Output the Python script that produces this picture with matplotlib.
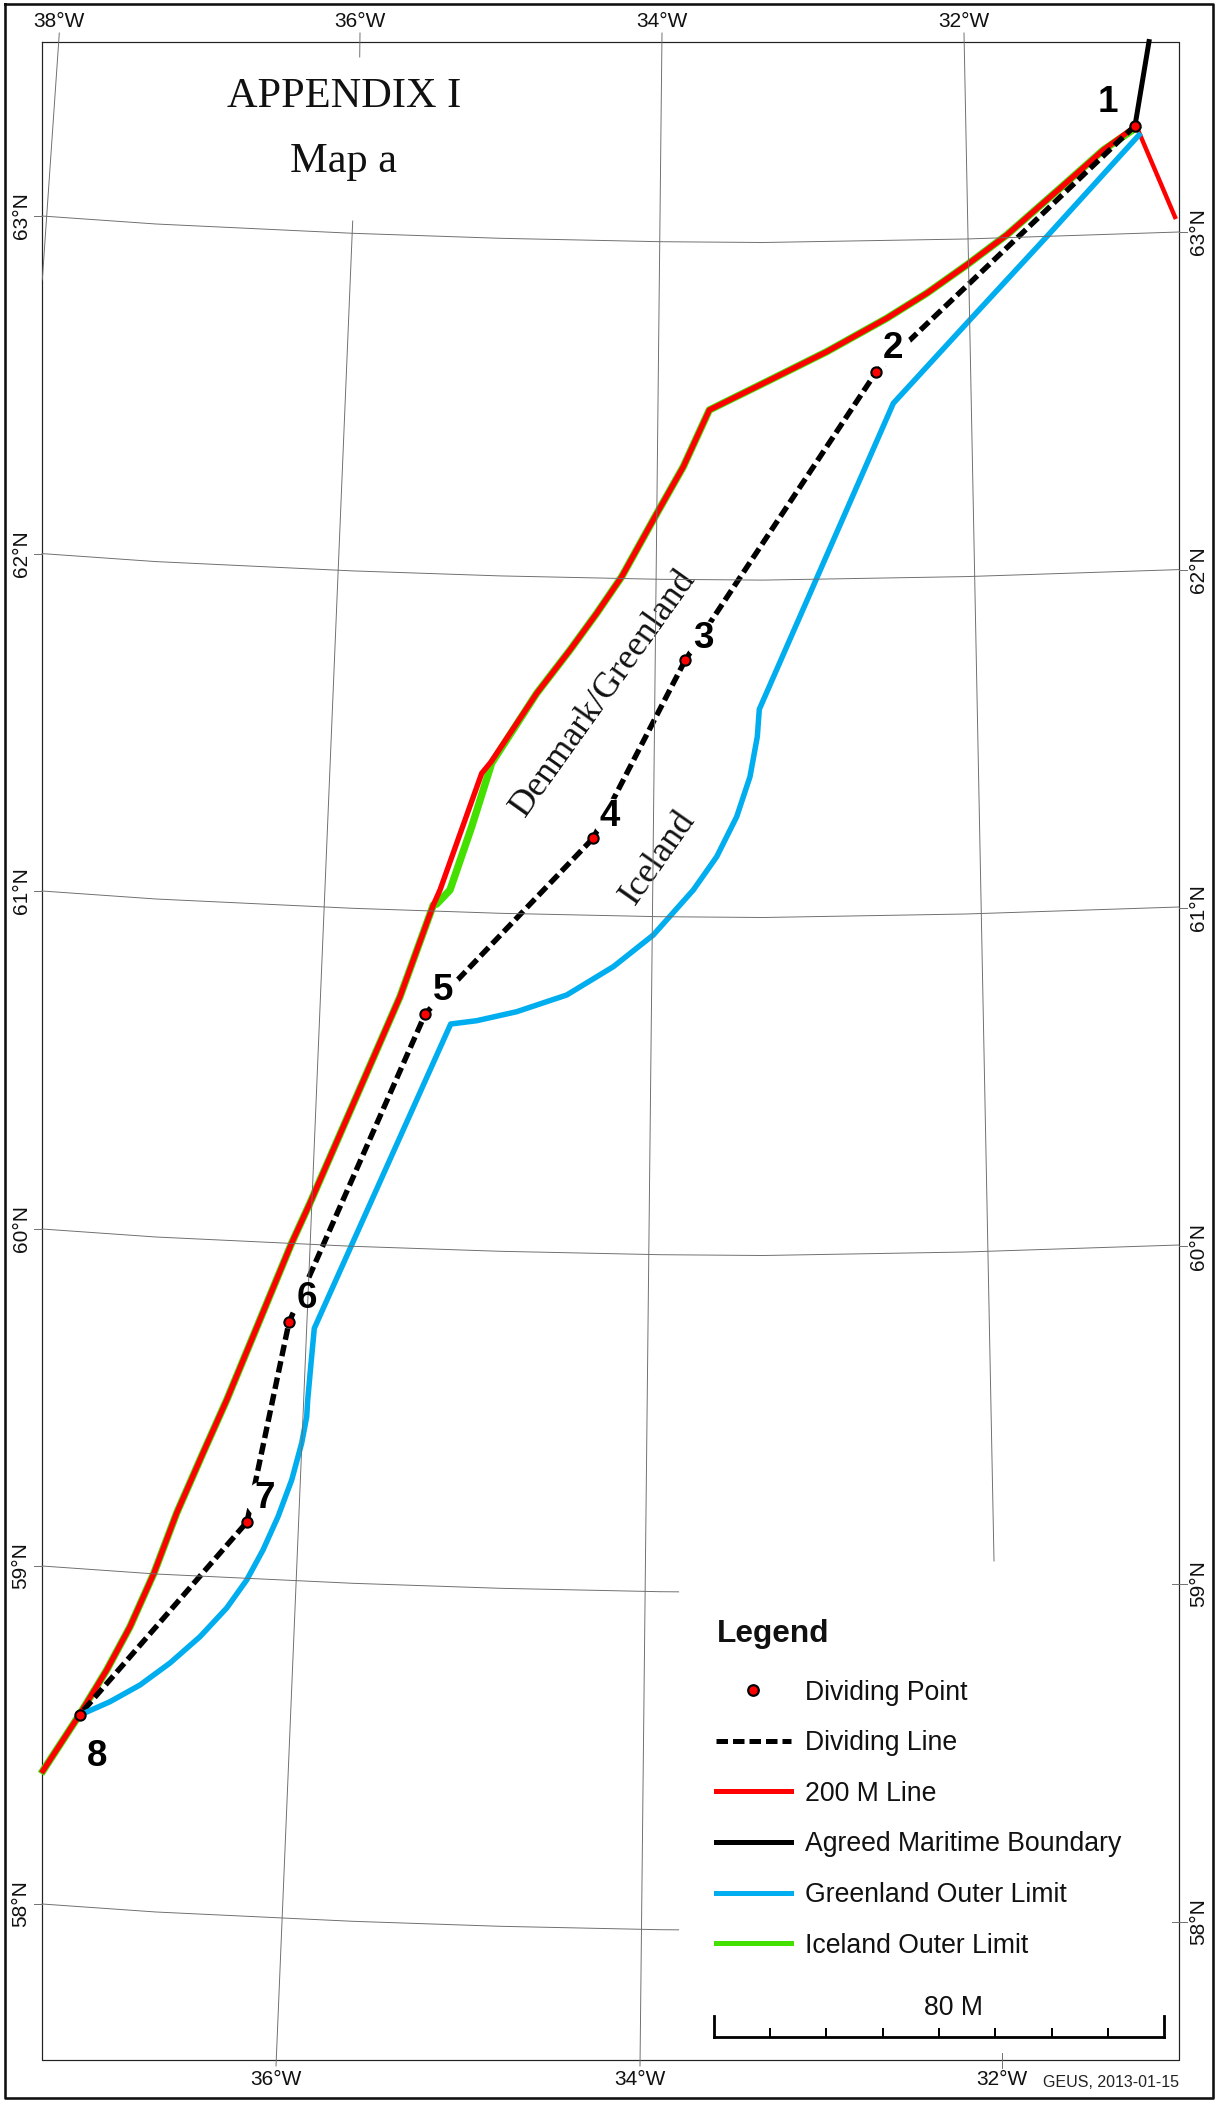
import matplotlib
matplotlib.use("Agg")
import matplotlib.pyplot as plt
import numpy as np

# Data, in map-sheet pixel coordinates
point_names = ["1", "2", "3", "4", "5", "6", "7", "8"]
point_x = [1135, 876, 685.3, 593.3, 425.3, 289, 247, 79.7]
point_y = [125.7, 372.3, 660, 838, 1013.7, 1322.3, 1522, 1714.7]
label_x = [1108, 892.7, 703, 610, 443, 306.7, 264.3, 97]
label_y = [103, 349, 638.7, 817, 990.7, 1299, 1499, 1757]

line200_x = [43, 79.3, 106.7, 130, 154, 176.7, 203, 226.7, 291.7, 310, 343.3, 400, 433.3, 440, 481.7,
             491, 536.7, 570, 596.7, 621.7, 655, 683.3, 709.3, 770, 826.7, 886.7, 926.7, 966.7, 1006.7, 1060, 1103.3, 1135]
line200_y = [1770.7, 1715, 1670, 1626.7, 1573, 1513, 1453, 1400, 1243, 1203, 1126.7, 996.7, 905, 890, 773.3,
             762, 693.3, 650, 613.3, 576.7, 516.7, 466.7, 410, 380, 351.7, 318.3, 293.3, 265, 235, 188.3, 150, 126.7]
line200_branch_x = [1138, 1175]
line200_branch_y = [130, 217]

iceland_x = [43, 79.3, 106.7, 130, 154, 176.7, 203, 226.7, 291.7, 310, 343.3, 400, 433.3, 436.7, 450, 471.7,
             491.7, 536.7, 570, 596.7, 621.7, 655, 683.3, 709.3, 770, 826.7, 886.7, 926.7, 966.7, 1006.7, 1060, 1103.3, 1137]
iceland_y = [1770.7, 1715, 1670, 1626.7, 1573, 1513, 1453, 1400, 1243, 1203, 1126.7, 996.7, 905, 904, 890, 826.7,
             763, 693.3, 650, 613.3, 576.7, 516.7, 466.7, 410, 380, 351.7, 318.3, 293.3, 265, 235, 188.3, 150, 127]

greenland_x = [80, 110, 140, 170, 200, 226.7, 246.7, 263, 278, 291.7, 301.7, 306.7, 307.7, 310.7, 314.3,
               450.7, 476.7, 516.7, 566.7, 613.3, 653.3, 693.3, 716.7, 736.7, 750, 757.3, 759.3,
               893.3, 966.7, 1046.7, 1139]
greenland_y = [1715, 1701.7, 1685, 1663, 1636.7, 1608, 1580, 1550, 1516.7, 1480, 1443, 1416.7, 1400, 1366.7, 1328.3,
               1024, 1020.7, 1011.7, 995, 966.7, 935, 890, 856.7, 816.7, 776.7, 736.7, 709.3,
               403.3, 323.3, 236.7, 135]

boundary_x = [1135, 1149]
boundary_y = [125.7, 41.6]

parallel_names = ["63°N", "62°N", "61°N", "60°N", "59°N", "58°N"]
parallel_left_y = [216, 553.6, 891, 1229, 1566, 1904]
parallel_right_y = [232, 570, 908, 1246, 1583.5, 1921.7]
parallel_end_x = [1179, 1179, 1179, 1179, 678.6, 678.6]
sag_x = [42, 156, 352.7, 500, 660, 763, 966, 1179]
sag_y = [0, 8, 17.3, 22.3, 25.7, 26.5, 23, 16]

meridian_names = ["38°W", "36°W", "34°W", "32°W"]
meridian_top_x = [59, 360, 662, 964]
meridian_bottom_names = ["36°W", "34°W", "32°W"]
meridian_bottom_x = [276, 640, 1001.5]
meridian_38_x = [59.3, 42.3]
meridian_38_y = [33, 280]
meridian_36_x = [352.7, 276]
meridian_36_y = [221, 2066]
meridian_36_stub_x = [360, 359.7]
meridian_36_stub_y = [33, 57]
meridian_34_x = [662, 640]
meridian_34_y = [33, 2066]
meridian_32_x = [964, 994]
meridian_32_y = [33, 1561]
meridian_32_stub_x = [1001.5, 1001.5]
meridian_32_stub_y = [2053, 2068]

legend_labels = ["Dividing Point", "Dividing Line", "200 M Line", "Agreed Maritime Boundary",
                 "Greenland Outer Limit", "Iceland Outer Limit"]
scale_ticks = [713.6, 770, 826, 882.6, 938.6, 995, 1051.5, 1107.9, 1164.3]

RED = "#ff0000"
BLUE = "#00aeef"
GREEN = "#44e000"
GRID = "#6e6e6e"
INK = "#111111"
SANS = "Liberation Sans"
SERIF = "Liberation Serif"

fig = plt.figure(figsize=(12.18, 21.02), dpi=100, facecolor="white")
ax = fig.add_axes([0, 0, 1, 1])
ax.set_xlim(0, 1218)
ax.set_ylim(2102, 0)
ax.axis("off")

px = 0.72
LAT = 15
# sheet border and map frame
ax.plot([4.5, 1213, 1213, 4.5, 4.5], [3.5, 3.5, 2097.5, 2097.5, 3.5], color="#111111", lw=2.6 * px, zorder=1)
ax.plot([42, 1178.5, 1178.5, 42, 42], [41.5, 41.5, 2060, 2060, 41.5], color="#222222", lw=1.2 * px, zorder=2)

# boundaries
ax.plot(iceland_x, iceland_y, color=GREEN, lw=7.4 * px, zorder=3, solid_joinstyle="round")
ax.plot(line200_x, line200_y, color=RED, lw=5.4 * px, zorder=4, solid_joinstyle="round")
ax.plot(line200_branch_x, line200_branch_y, color=RED, lw=4.4 * px, zorder=4)
ax.plot(point_x, point_y, color="black", lw=5.4 * px, dashes=(2.15, 0.95), zorder=4.5)
ax.plot(label_x, label_y, ls="none", marker="o", ms=27, mfc="white", mec="none", zorder=4.7)
ax.plot(greenland_x, greenland_y, color=BLUE, lw=5.5 * px, zorder=5, solid_joinstyle="round")
ax.plot(boundary_x, boundary_y, color="black", lw=5 * px, zorder=6)

# graticule, lying over the boundary lines
for name, ly, ry, ex in zip(parallel_names, parallel_left_y, parallel_right_y, parallel_end_x):
    xs = [x for x in sag_x if x < ex] + [ex]
    ys = list(np.interp(xs, sag_x, sag_y) + ly)
    ax.plot(xs, ys, color=GRID, lw=0.95 * px, zorder=7)
    ax.plot([33.5, 42], [ly, ly], color=GRID, lw=0.95 * px, zorder=7)
    ax.plot([1171.5 if ex < 1179 else 1178.5, 1187], [ry, ry], color=GRID, lw=0.95 * px, zorder=7)
    ax.text(21, ly, name, rotation=90, ha="center", va="center", family=SANS, fontsize=LAT, color=INK)
    ax.text(1198.4, ry, name, rotation=90, ha="center", va="center", family=SANS, fontsize=LAT, color=INK)

for xs, ys in [(meridian_38_x, meridian_38_y), (meridian_36_x, meridian_36_y),
               (meridian_36_stub_x, meridian_36_stub_y), (meridian_34_x, meridian_34_y),
               (meridian_32_x, meridian_32_y), (meridian_32_stub_x, meridian_32_stub_y)]:
    ax.plot(xs, ys, color=GRID, lw=0.95 * px, zorder=7)

for name, x in zip(meridian_names, meridian_top_x):
    ax.text(x, 21.5, name, ha="center", va="center", family=SANS, fontsize=LAT, color=INK)
for name, x in zip(meridian_bottom_names, meridian_bottom_x):
    ax.text(x, 2079.5, name, ha="center", va="center", family=SANS, fontsize=LAT, color=INK)

# dividing points
ax.plot(point_x, point_y, ls="none", marker="o", ms=7.4, mfc=RED, mec="black", mew=1.5, zorder=8)
for name, x, y in zip(point_names, label_x, label_y):
    ax.text(x, y, name, ha="center", va="center", family=SANS, weight="bold", fontsize=26.5, color="black", zorder=9)

# titles and annotations
ax.text(344.2, 107, "APPENDIX I", ha="center", va="baseline", family=SERIF, fontsize=30.5, color=INK)
ax.text(343.5, 171.7, "Map a", ha="center", va="baseline", family=SERIF, fontsize=30.5, color=INK)
ax.text(604, 693, "Denmark/Greenland", rotation=54.5, rotation_mode="anchor", ha="center", va="center",
        family=SERIF, fontsize=26, color=INK)
ax.text(658.5, 858, "Iceland", rotation=55, rotation_mode="anchor", ha="center", va="center",
        family=SERIF, fontsize=26, color=INK)

# legend
ax.text(716.4, 1641.7, "Legend", ha="left", va="baseline", family=SANS, weight="bold", fontsize=22.8, color=INK)
legend_text_y = [1700, 1750, 1801, 1851, 1901.6, 1952.6]
for label, y in zip(legend_labels, legend_text_y):
    ax.text(805, y, label, ha="left", va="baseline", family=SANS, fontsize=19.2, color=INK)
ax.plot([752.8], [1690], ls="none", marker="o", ms=7.6, mfc=RED, mec="black", mew=1.6)
ax.plot([716, 791.4], [1740.7, 1740.7], color="black", lw=5 * px, dashes=(2.3, 1.0))
ax.plot([716, 791.4], [1791.3, 1791.3], color=RED, lw=5 * px)
ax.plot([716, 791.4], [1841.7, 1841.7], color="black", lw=5 * px)
ax.plot([716, 791.4], [1892.7, 1892.7], color=BLUE, lw=5 * px)
ax.plot([716, 791.4], [1943.3, 1943.3], color=GREEN, lw=5 * px)

# scale bar
ax.plot([scale_ticks[0], scale_ticks[-1]], [2037.3, 2037.3], color="black", lw=2.8 * px, solid_capstyle="projecting")
for i, x in enumerate(scale_ticks):
    end = i in (0, len(scale_ticks) - 1)
    ax.plot([x, x], [2015.7 if end else 2028.7, 2037.3], color="black", lw=(2.8 if end else 2) * px)
ax.text(953.5, 2014.7, "80 M", ha="center", va="baseline", family=SANS, fontsize=19.2, color=INK)
ax.text(1179.2, 2087.3, "GEUS, 2013-01-15", ha="right", va="baseline", family=SANS, fontsize=11.5, color="#222222")

fig.savefig("out.png", dpi=100, facecolor="white")
